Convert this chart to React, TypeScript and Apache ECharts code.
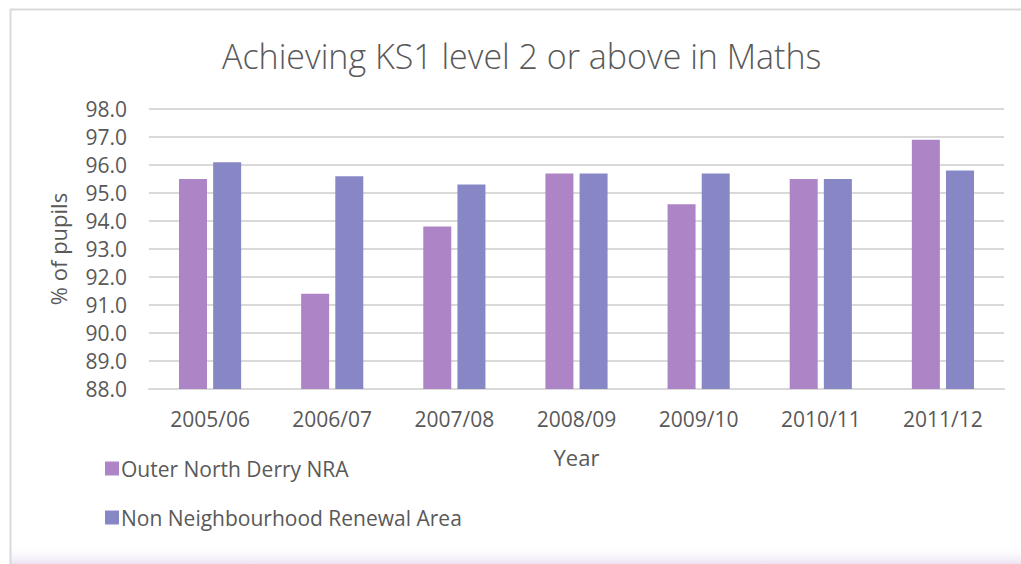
import React, { useEffect, useRef } from "react";
import * as echarts from "echarts";

const categories = ["2005/06", "2006/07", "2007/08", "2008/09", "2009/10", "2010/11", "2011/12"];
const outerNorthDerry = [95.5, 91.4, 93.8, 95.7, 94.6, 95.5, 96.9];
const nonNRA = [96.1, 95.6, 95.3, 95.7, 95.7, 95.5, 95.8];
const seriesNames = ["Outer North Derry NRA", "Non Neighbourhood Renewal Area"];

const FONT = "'Open Sans', 'Noto Sans', sans-serif";
const TXT = "#595959";

export default function App() {
  const ref = useRef<HTMLDivElement>(null);
  useEffect(() => {
    if (!ref.current) return;
    const chart = echarts.init(ref.current, null, { renderer: "svg" });
    chart.setOption({
      animation: false,
      backgroundColor: "#ffffff",
      title: {
        text: "Achieving KS1 level 2 or above in Maths",
        left: 217,
        top: 34,
        textStyle: { fontFamily: FONT, fontSize: 34, fontWeight: 300, color: TXT },
      },
      graphic: [
        {
          type: "rect",
          shape: { x: 10, y: 545, width: 1011, height: 19 },
          style: {
            fill: new echarts.graphic.LinearGradient(0, 0, 0, 1, [
              { offset: 0, color: "rgba(255,255,255,0)" },
              { offset: 1, color: "#ece3f3" },
            ]),
          },
          silent: true,
        },
        {
          type: "line",
          shape: { x1: 10, y1: 9.5, x2: 1021, y2: 9.5 },
          style: { stroke: "#d9d9d9", lineWidth: 2 },
          silent: true,
        },
        {
          type: "line",
          shape: { x1: 10.5, y1: 9, x2: 10.5, y2: 564 },
          style: { stroke: "#d9d9d9", lineWidth: 2 },
          silent: true,
        },
      ],
      legend: {
        orient: "vertical",
        left: 100,
        top: 453,
        itemWidth: 14,
        itemHeight: 14,
        itemGap: 28,
        icon: "rect",
        textStyle: { fontFamily: FONT, fontSize: 21, color: TXT, padding: [0, 0, 0, -3] },
        data: seriesNames,
      },
      grid: { left: 149, right: 17, top: 109, bottom: 175 },
      xAxis: {
        type: "category",
        data: categories,
        name: "Year",
        nameLocation: "middle",
        nameGap: 57,
        nameTextStyle: { fontFamily: FONT, fontSize: 22, color: TXT },
        axisLine: { show: true, lineStyle: { color: "#d9d9d9", width: 2 } },
        axisTick: { show: false },
        axisLabel: { fontFamily: FONT, fontSize: 21, color: TXT, margin: 19 },
      },
      yAxis: {
        type: "value",
        min: 88,
        max: 98,
        interval: 1,
        name: "% of pupils",
        nameLocation: "middle",
        nameGap: 80,
        nameRotate: 90,
        nameTextStyle: { fontFamily: FONT, fontSize: 22, color: TXT },
        axisLine: { show: false },
        axisTick: { show: false },
        splitLine: { lineStyle: { color: "#d9d9d9", width: 2 } },
        axisLabel: {
          fontFamily: FONT,
          fontSize: 21,
          color: TXT,
          margin: 22,
          formatter: (v: number) => v.toFixed(1),
        },
      },
      series: [
        {
          name: seriesNames[0],
          type: "bar",
          data: outerNorthDerry,
          barWidth: 28,
          barGap: "22%",
          itemStyle: { color: "#ad85c6" },
        },
        {
          name: seriesNames[1],
          type: "bar",
          data: nonNRA,
          barWidth: 28,
          itemStyle: { color: "#8887c6" },
        },
      ],
    });
    return () => chart.dispose();
  }, []);
  return (
    <div
      ref={ref}
      style={{ position: "fixed", left: 0, top: 0, width: 1021, height: 564 }}
    />
  );
}
